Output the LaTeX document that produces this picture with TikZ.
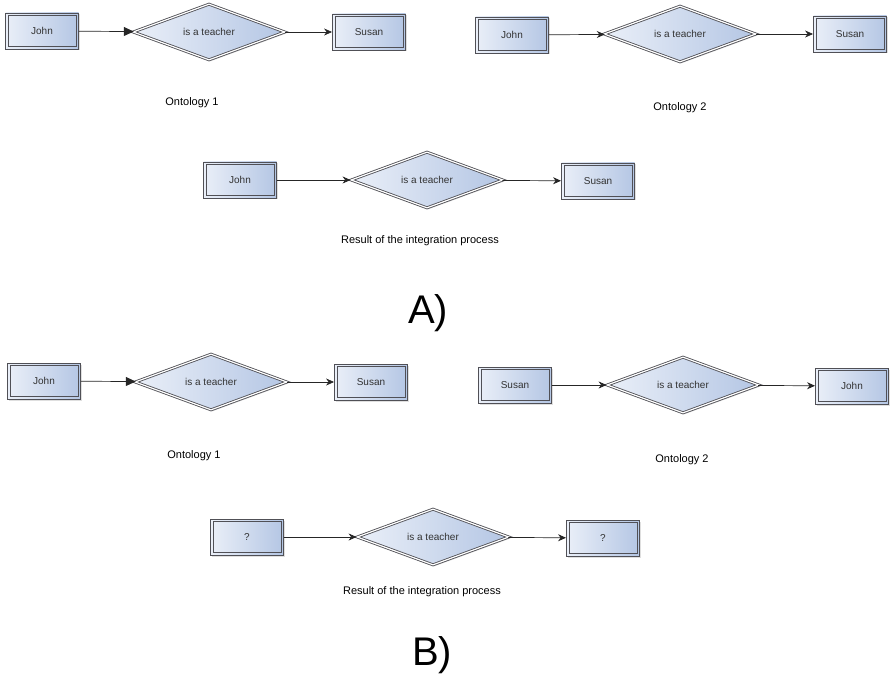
\documentclass[tikz,border=0pt]{standalone}
\usepackage{fontspec}
\setmainfont{Liberation Sans}
\usetikzlibrary{shapes.geometric,arrows.meta,shadows}

\definecolor{boxlight}{RGB}{234,239,248}
\definecolor{boxdark}{RGB}{180,198,228}
\definecolor{edgegray}{RGB}{80,80,86}

\tikzset{
  shade fill/.style={left color=boxlight, right color=boxdark,
    drop shadow={shadow xshift=1.5pt, shadow yshift=-1.5pt, opacity=0.25}},
  entity/.style={shade fill, rectangle, draw=edgegray, line width=0.9pt,
    minimum width=73pt, minimum height=36pt, inner sep=0pt,
    font=\fontsize{10}{12}\selectfont, text=black!80,
    path picture={\draw[edgegray, line width=0.7pt]
      ([shift={(2.4pt,-2.4pt)}]path picture bounding box.north west) rectangle
      ([shift={(-2.4pt,2.4pt)}]path picture bounding box.south east);}},
  relation/.style={shade fill, diamond, draw=edgegray, line width=0.85pt,
    double=white, double distance=1.2pt, aspect=2.7,
    minimum width=152pt, minimum height=56pt, inner sep=0pt,
    font=\fontsize{10}{12}\selectfont, text=black!80},
  link/.style={draw=black!85, line width=0.7pt, -{Stealth[length=8pt,width=7pt]}},
  biglink/.style={draw=black!85, line width=0.7pt, -{Triangle[length=10pt,width=9pt]}},
  caption/.style={font=\fontsize{11}{13}\selectfont, text=black},
  partlabel/.style={font=\fontsize{40}{44}\selectfont, text=black}
}

\begin{document}
\begin{tikzpicture}[x=1pt, y=-1pt]
\useasboundingbox (0,0) rectangle (891,676);

% ---------- Part A ----------
% Ontology 1
\node[entity]   (a1s) at (42,31)  {John};
\node[relation] (a1r) at (209,32) {is a teacher};
\node[entity]   (a1o) at (369,32) {Susan};
\draw[biglink] (a1s) -- (a1r);
\draw[link] (a1r) -- (a1o);
\node[caption] (a1c) at (192,103) {Ontology 1};

% Ontology 2
\node[entity]   (a2s) at (512,35) {John};
\node[relation] (a2r) at (680,34) {is a teacher};
\node[entity]   (a2o) at (850,34) {Susan};
\draw[link] (a2s) -- (a2r);
\draw[link] (a2r) -- (a2o);
\node[caption] (a2c) at (680,108) {Ontology 2};

% Integration result
\node[entity]   (a3s) at (240,180) {John};
\node[relation] (a3r) at (427,180) {is a teacher};
\node[entity]   (a3o) at (598,181) {Susan};
\draw[link] (a3s) -- (a3r);
\draw[link] (a3r) -- (a3o);
\node[caption] (a3c) at (420,241) {Result of the integration process};

\node[partlabel] (pa) at (428,313) {A)};

% ---------- Part B ----------
% Ontology 1
\node[entity]   (b1s) at (44,381)  {John};
\node[relation] (b1r) at (211,382) {is a teacher};
\node[entity]   (b1o) at (371,382) {Susan};
\draw[biglink] (b1s) -- (b1r);
\draw[link] (b1r) -- (b1o);
\node[caption] (b1c) at (194,456) {Ontology 1};

% Ontology 2
\node[entity]   (b2s) at (515,385) {Susan};
\node[relation] (b2r) at (683,385) {is a teacher};
\node[entity]   (b2o) at (852,386) {John};
\draw[link] (b2s) -- (b2r);
\draw[link] (b2r) -- (b2o);
\node[caption] (b2c) at (682,460) {Ontology 2};

% Integration result
\node[entity]   (b3s) at (247,537) {?};
\node[relation] (b3r) at (433,537) {is a teacher};
\node[entity]   (b3o) at (603,538) {?};
\draw[link] (b3s) -- (b3r);
\draw[link] (b3r) -- (b3o);
\node[caption] (b3c) at (422,592) {Result of the integration process};

\node[partlabel] (pb) at (432,655) {B)};
\end{tikzpicture}
\end{document}
